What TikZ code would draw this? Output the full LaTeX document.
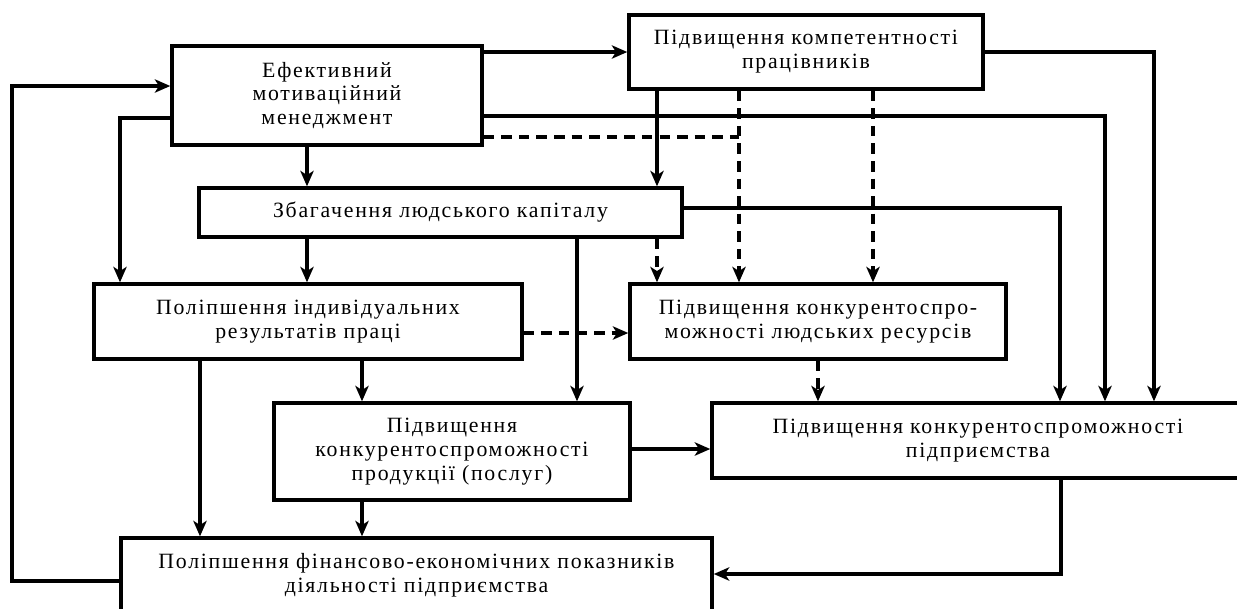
\documentclass[tikz,border=0pt]{standalone}
\usepackage{fontspec}
\setmainfont{Liberation Serif}[LetterSpace=8]
\usetikzlibrary{arrows.meta}

\begin{document}
\begin{tikzpicture}[x=0.025cm, y=-0.025cm,
  box/.style={draw, line width=2.4pt, align=center, inner sep=2pt,
    font=\fontsize{15.5}{17}\selectfont},
  arr/.style={line width=2.3pt, -{Stealth[length=11pt,width=9.5pt,inset=3pt]}},
  dsh/.style={arr, dash pattern=on 7.5pt off 5pt},
  ln/.style={line width=2.3pt}]

  \clip (0,0) rectangle (1237,608);

  % Kästen
  \node[box, minimum width=7.75cm, minimum height=2.475cm] (mgmt) at (327,95.5)
    {Ефективний\\мотиваційний\\менеджмент};
  \node[box, minimum width=8.85cm, minimum height=1.85cm] (compet) at (806,52)
    {Підвищення компетентності\\працівників};
  \node[box, minimum width=12.075cm, minimum height=1.225cm] (capital) at (440.5,212.5)
    {Збагачення людського капіталу};
  \node[box, minimum width=10.7cm, minimum height=1.875cm] (indiv) at (308,321.5)
    {Поліпшення індивідуальних\\результатів праці};
  \node[box, minimum width=9.4cm, minimum height=1.875cm] (hres) at (818,321.5)
    {Підвищення конкурентоспро-\\можності людських ресурсів};
  \node[box, minimum width=8.9cm, minimum height=2.425cm] (product) at (452,451.5)
    {Підвищення\\конкурентоспроможності\\продукції (послуг)};
  \node[box, minimum width=13.3cm, minimum height=1.875cm] (enter) at (978,440.5)
    {Підвищення конкурентоспроможності\\підприємства};
  \node[box, minimum width=14.775cm, minimum height=1.875cm] (fin) at (416.5,575.5)
    {Поліпшення фінансово-економічних показників\\діяльності підприємства};

  % Verbindungen
  \draw[arr] (fin.west |- 0,581) -| (12,86) -- (mgmt.west |- 0,86);
  \draw[arr] (mgmt.west |- 0,118) -| (indiv.north -| 120,0);
  \draw[arr] (mgmt.south -| 307,0) -- (capital.north -| 307,0);
  \draw[arr] (mgmt.east |- 0,52) -- (compet.west |- 0,52);
  \draw[arr] (mgmt.east |- 0,116) -| (enter.north -| 1105,0);
  \coordinate (join) at (739,137);
  \draw[ln, dash pattern=on 7.5pt off 5pt] (mgmt.east |- 0,137) -- (join);

  \draw[arr] (compet.east |- 0,52) -| (enter.north -| 1154,0);
  \draw[arr] (compet.south -| 657,0) -- (capital.north -| 657,0);
  \draw[dsh] (compet.south -| 739,0) -- (hres.north -| 739,0);
  \draw[dsh] (compet.south -| 873,0) -- (hres.north -| 873,0);

  \draw[arr] (capital.east |- 0,208) -| (enter.north -| 1060,0);
  \draw[arr] (capital.south -| 307,0) -- (indiv.north -| 307,0);
  \draw[arr] (capital.south -| 577,0) -- (product.north -| 577,0);
  \draw[dsh] (capital.south -| 657,0) -- (hres.north -| 657,0);

  \draw[dsh] (indiv.east |- 0,333) -- (hres.west |- 0,333);
  \draw[arr] (indiv.south -| 200,0) -- (fin.north -| 200,0);
  \draw[arr] (indiv.south -| 362,0) -- (product.north -| 362,0);
  \draw[arr] (product.south -| 362,0) -- (fin.north -| 362,0);
  \draw[arr] (product.east |- 0,449) -- (enter.west |- 0,449);

  \draw[dsh] (hres.south -| 818,0) -- (enter.north -| 818,0);
  \draw[arr] (enter.south -| 1061,0) |- (fin.east |- 0,574);

\end{tikzpicture}
\end{document}
